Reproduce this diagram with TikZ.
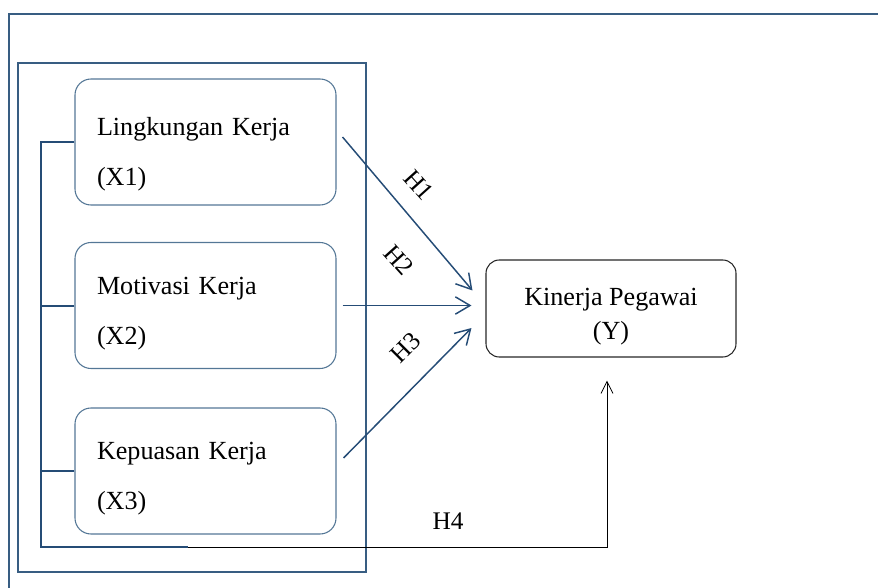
\documentclass[tikz,border=0pt]{standalone}
\usepackage{fontspec}
\setmainfont{Liberation Serif}
\usetikzlibrary{arrows.meta,calc}

\definecolor{framecol}{RGB}{56,93,130}
\definecolor{boxcol}{RGB}{84,119,150}
\definecolor{arrcol}{RGB}{37,76,118}

\tikzset{
  xbox/.style={draw=boxcol, line width=0.8pt, rounded corners=12pt, align=left,
    text width=162.75pt, inner xsep=16.5pt, minimum height=94.5pt,
    font=\fontsize{19.6}{37.5}\selectfont},
  ybox/.style={draw=black!85, line width=0.8pt, rounded corners=10pt, align=center,
    minimum width=187.5pt, minimum height=72.75pt,
    font=\fontsize{19.6}{26}\selectfont},
  harr/.style={draw=arrcol, line width=1.1pt, -{Straight Barb[length=11pt,width=13pt]}},
  hlab/.style={font=\fontsize{19}{20}\selectfont, inner sep=1pt},
  brkline/.style={draw=arrcol, line width=1.5pt},
  frame/.style={draw=framecol, line width=0.8pt}
}

\begin{document}
\begin{tikzpicture}[x=0.75pt,y=0.75pt,yscale=-1,xscale=1]
\useasboundingbox (0,0) rectangle (878,588);
% frames
\draw[frame] (9,588) -- (9,14) -- (878,14);
\draw[frame] (18,63) rectangle (366,572);
% variables
\node[xbox] (x1) at (205.5,142) {\rule{0pt}{31.5pt}Lingkungan Kerja\\(X1)};
\node[xbox] (x2) at (205.5,305.5) {\rule{0pt}{24.5pt}Motivasi Kerja\\(X2)};
\node[xbox] (x3) at (205.5,471) {\rule{0pt}{24.5pt}Kepuasan Kerja\\(X3)};
\node[ybox] (ky) at (611,308.5) {\rule{0pt}{25pt}Kinerja Pegawai\\(Y)};
% partial paths
\draw[harr] ($(x1.east)+(6,-5)$) -- ($(ky.west)+(-13,-18)$);
\draw[harr] ($(x2.east)+(6,0)$) -- ($(x2.east -| ky.west)+(-14,0)$);
\draw[harr] ($(x3.east)+(7,-13)$) -- ($(ky.west)+(-14,19.5)$);
\node[hlab, rotate=-48] (h1) at (419,185) {H1};
\node[hlab, rotate=-48] (h2) at (399,260) {H2};
\node[hlab, rotate=45] (h3) at (406,348) {H3};
% simultaneous path
\coordinate (brk) at (41,547);
\coordinate (mid) at (188,547);
\draw[brkline] (x1.west) -- (x1.west -| brk) -- (brk) -- (mid);
\draw[brkline] (x2.west) -- (x2.west -| brk);
\draw[brkline] (x3.west) -- (x3.west -| brk);
\draw[line width=0.6pt, -{Straight Barb[length=9pt,width=9pt]}] (mid) -| ($(ky.south)+(-4,23)$);
\node[hlab] (h4) at (448,521) {H4};
\end{tikzpicture}
\end{document}
